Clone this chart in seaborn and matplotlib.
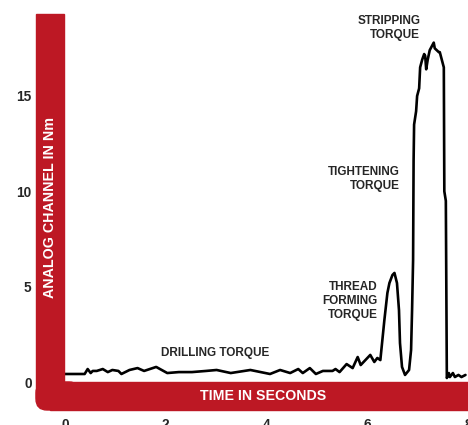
import numpy as np
import pandas as pd
import matplotlib
matplotlib.use('Agg')
import matplotlib.pyplot as plt
from matplotlib.patches import Rectangle, FancyBboxPatch
from matplotlib.transforms import IdentityTransform
import seaborn as sns

# data
time_s = [0.00, 0.39, 0.45, 0.51, 0.55, 0.63, 0.75, 0.85, 0.94, 1.06, 1.12, 1.28,
          1.44, 1.57, 1.81, 2.03, 2.26, 2.52, 2.80, 3.01, 3.29, 3.68, 4.07, 4.27,
          4.47, 4.63, 4.72, 4.86, 4.98, 5.12, 5.31, 5.37, 5.45, 5.59, 5.71, 5.81,
          5.87, 6.06, 6.14, 6.20, 6.26, 6.30, 6.34, 6.40, 6.44, 6.50, 6.54, 6.59,
          6.63, 6.65, 6.69, 6.75, 6.83, 6.87, 6.89, 6.91, 6.92, 6.93, 6.97, 6.99,
          7.03, 7.05, 7.09, 7.13, 7.15, 7.17, 7.20, 7.24, 7.28, 7.32, 7.34, 7.38,
          7.42, 7.44, 7.48, 7.52, 7.53, 7.56, 7.58, 7.62, 7.64, 7.70, 7.74, 7.81,
          7.87, 7.95]
torque_nm = [0.42, 0.42, 0.68, 0.47, 0.58, 0.58, 0.68, 0.52, 0.63, 0.58, 0.42, 0.63,
             0.73, 0.58, 0.79, 0.47, 0.52, 0.52, 0.58, 0.63, 0.47, 0.63, 0.42, 0.63,
             0.47, 0.68, 0.47, 0.73, 0.42, 0.58, 0.58, 0.68, 0.52, 0.94, 0.73, 1.31,
             0.89, 1.42, 1.05, 1.26, 1.15, 2.20, 3.25, 4.67, 5.19, 5.61, 5.72, 5.19,
             3.77, 2.04, 0.79, 0.37, 0.63, 1.68, 3.80, 6.40, 11.6, 13.5, 14.2, 15.0,
             15.4, 16.5, 16.9, 17.2, 17.1, 16.4, 16.9, 17.4, 17.6, 17.8, 17.5, 17.4,
             17.3, 17.3, 16.9, 16.5, 10.0, 9.5, 0.21, 0.47, 0.26, 0.47, 0.26, 0.37,
             0.26, 0.37]

x_ticks = [0, 2, 4, 6, 8]
y_ticks = [0, 5, 10, 15]
annotations = [
    ('DRILLING TORQUE', 2.99, 1.52, 'center'),
    ('THREAD\nFORMING\nTORQUE', 6.20, 4.25, 'right'),
    ('TIGHTENING\nTORQUE', 6.65, 10.64, 'right'),
    ('STRIPPING\nTORQUE', 7.05, 18.56, 'right'),
]

RED = '#BD1824'
W, H = 468, 425

sns.set_style('white')
plt.rcParams['font.family'] = ['Liberation Sans', 'DejaVu Sans']

fig = plt.figure(figsize=(W / 100, H / 100), dpi=100)


def fx(px):
    return px / W


def fy(py):
    return 1 - py / H


# red L-shaped axis band, drawn in pixel coords (origin bottom-left)
pix = IdentityTransform()
fig.patches.append(Rectangle((36, H - 398), 28, 398 - 14, transform=pix,
                             color=RED, zorder=0, figure=fig))
fig.patches.append(Rectangle((50, H - 410), 430, 28, transform=pix,
                             color=RED, zorder=0, figure=fig))
fig.patches.append(FancyBboxPatch((36, H - 410), 44, 28, transform=pix,
                                  boxstyle='round,pad=0,rounding_size=11',
                                  color=RED, zorder=0, figure=fig))

ax = fig.add_axes([fx(65), fy(382), 1 - fx(65), fy(14) - fy(382)])
ax.patch.set_alpha(0)

df = pd.DataFrame({'time': time_s, 'torque': torque_nm})
sns.lineplot(data=df, x='time', y='torque', sort=False, color='black', lw=1.9, ax=ax)

ax.set_xlim(0, 7.95)
ax.set_ylim(0, 19.3)
ax.set_xticks(x_ticks)
ax.set_yticks(y_ticks)
ax.set_xlabel('')
ax.set_ylabel('')
for s in ax.spines.values():
    s.set_visible(False)
ax.tick_params(axis='both', length=0, labelsize=9.8)
ax.tick_params(axis='y', pad=24)
ax.tick_params(axis='x', pad=26)
for lab in ax.get_xticklabels() + ax.get_yticklabels():
    lab.set_fontweight('bold')

for txt, x, y, ha in annotations:
    ax.text(x, y, txt, ha=ha, va='center', fontsize=8.5, fontweight='bold',
            linespacing=1.2)

fig.text(fx(50), fy(207), 'ANALOG CHANNEL IN Nm', rotation=90, color='white',
         fontsize=10.3, fontweight='bold', ha='center', va='center')
fig.text(fx(263), fy(396), 'TIME IN SECONDS', color='white',
         fontsize=10.2, fontweight='bold', ha='center', va='center')

fig.savefig('out.png', dpi=100)
